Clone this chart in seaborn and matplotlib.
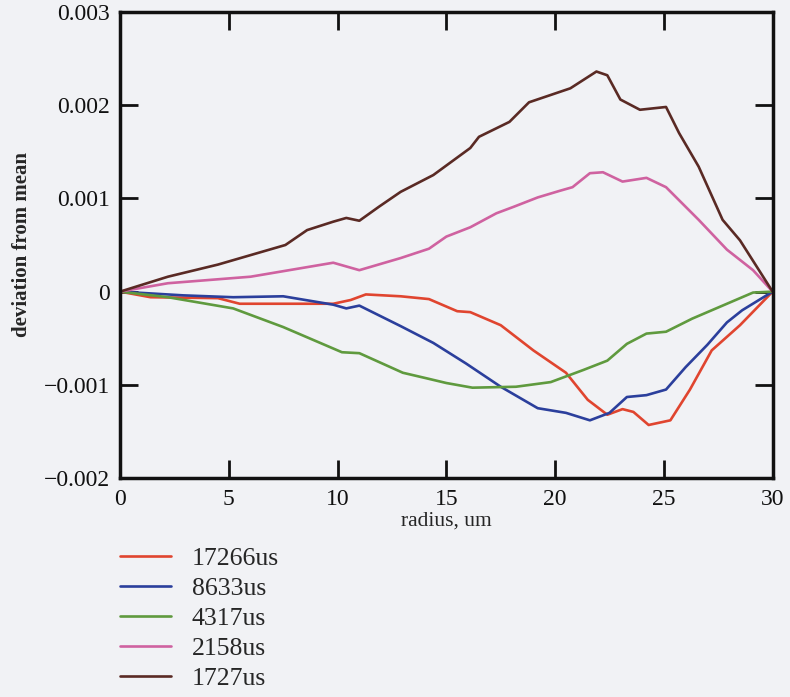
import pandas as pd
import numpy as np
import seaborn as sns
import matplotlib.pyplot as plt

# %% Data (radius in um, deviation from mean)

r_17266 = [0, 1.4, 4.5, 5.5, 8.0, 9.8, 10.6, 11.3, 12.9, 14.2, 15.5, 16.1, 17.5, 19.0,
           20.5, 21.5, 22.4, 23.1, 23.6, 24.3, 25.3, 26.2, 27.2, 28.5, 30]
d_17266 = [0, -0.00006, -0.00007, -0.00013, -0.00013, -0.00013, -0.00009, -0.00003,
           -0.00005, -0.00008, -0.00021, -0.00022, -0.00036, -0.00063, -0.00087,
           -0.00116, -0.00132, -0.00126, -0.00129, -0.00143, -0.00138, -0.00105,
           -0.00063, -0.00036, 0]

r_8633 = [0, 2.9, 5.2, 7.5, 9.8, 10.4, 11.0, 12.9, 14.4, 15.9, 17.5, 19.2, 20.5, 21.6,
          22.5, 23.3, 24.2, 25.1, 26.0, 27.0, 27.9, 28.6, 30]
d_8633 = [0, -0.00004, -0.00006, -0.00005, -0.00014, -0.00018, -0.00015, -0.00037,
          -0.00055, -0.00077, -0.00102, -0.00125, -0.0013, -0.00138, -0.0013, -0.00113,
          -0.00111, -0.00105, -0.00081, -0.00057, -0.00033, -0.0002, 0]

r_4317 = [0, 2.2, 5.2, 7.5, 10.2, 11.0, 13.0, 14.1, 15.0, 16.2, 18.2, 19.8, 21.3, 22.4,
          23.3, 24.2, 25.1, 26.3, 27.6, 29.1, 30]
d_4317 = [0, -0.00006, -0.00018, -0.00038, -0.00065, -0.00066, -0.00087, -0.00093,
          -0.00098, -0.00103, -0.00102, -0.00097, -0.00084, -0.00074, -0.00056,
          -0.00045, -0.00043, -0.00029, -0.00016, -0.00001, 0]

r_2158 = [0, 2.2, 6.0, 9.8, 11.0, 12.9, 14.2, 15.0, 16.1, 17.3, 18.1, 19.2, 20.2, 20.8,
          21.6, 22.2, 23.1, 24.2, 25.1, 26.0, 26.6, 27.9, 29.1, 30]
d_2158 = [0, 0.00009, 0.00016, 0.00031, 0.00023, 0.00036, 0.00046, 0.00059, 0.00069,
          0.00084, 0.00091, 0.00101, 0.00108, 0.00112, 0.00127, 0.00128, 0.00118,
          0.00122, 0.00112, 0.00091, 0.00077, 0.00045, 0.00023, 0]

r_1727 = [0, 2.2, 4.5, 7.6, 8.6, 9.8, 10.4, 11.0, 11.9, 12.9, 14.4, 16.1, 16.5, 17.9,
          18.8, 20.7, 21.9, 22.4, 23.0, 23.9, 25.1, 25.7, 26.6, 27.7, 28.5, 30]
d_1727 = [0, 0.00016, 0.00029, 0.0005, 0.00066, 0.00075, 0.00079, 0.00076, 0.00091,
          0.00107, 0.00125, 0.00154, 0.00166, 0.00182, 0.00203, 0.00218, 0.00236,
          0.00232, 0.00206, 0.00195, 0.00198, 0.0017, 0.00134, 0.00077, 0.00055, 0]

labels = ['17266us', '8633us', '4317us', '2158us', '1727us']
colors = ['#e0452f', '#2b3f9c', '#5f9a3e', '#cf62a0', '#5a2a24']

x_ticks = [0, 5, 10, 15, 20, 25, 30]
y_ticks = [-0.002, -0.001, 0, 0.001, 0.002, 0.003]
y_tick_labels = ['\u22120.002', '\u22120.001', '0', '0.001', '0.002', '0.003']

# %% Long-form table for seaborn

radii = [r_17266, r_8633, r_4317, r_2158, r_1727]
devs = [d_17266, d_8633, d_4317, d_2158, d_1727]
df = pd.concat([pd.DataFrame({'radius': r, 'dev': d, 'series': lab})
                for r, d, lab in zip(radii, devs, labels)], ignore_index=True)

# %% Plot

sns.set_style('ticks')
plt.rcParams['font.family'] = ['Liberation Serif', 'DejaVu Serif']
bg = '#f1f2f5'

fig = plt.figure(figsize=(7.9, 6.97), dpi=100, facecolor=bg)
ax = fig.add_axes([0.152, 0.314, 0.826, 0.669])
ax.set_facecolor(bg)

sns.lineplot(data=df, x='radius', y='dev', hue='series', hue_order=labels,
             palette=dict(zip(labels, colors)), estimator=None, sort=False,
             linewidth=1.9, ax=ax)

ax.set_xlim(0, 30)
ax.set_ylim(-0.002, 0.003)
ax.set_xticks(x_ticks)
ax.set_xticklabels([str(t) for t in x_ticks])
ax.set_yticks(y_ticks)
ax.set_yticklabels(y_tick_labels)
ax.tick_params(direction='in', length=13, width=2, top=True, right=True,
               labelsize=17, colors='#111111')
ax.tick_params(axis='x', pad=8)
ax.tick_params(axis='y', pad=7)
for sp in ax.spines.values():
    sp.set_linewidth(2.5)
    sp.set_color('#111111')

ax.set_xlabel('radius, um', fontsize=15.5, labelpad=1)
ax.set_ylabel('deviation from mean', fontsize=15, fontweight='bold', labelpad=9)

handles, labs = ax.get_legend_handles_labels()
ax.legend_.remove()
fig.legend(handles, labs, loc='upper left', bbox_to_anchor=(0.152, 0.215),
           frameon=False, fontsize=18.5, handlelength=2.0, handletextpad=0.78,
           labelspacing=0.27, borderpad=0, borderaxespad=0)

fig.savefig('out.png', dpi=100, facecolor=bg)
